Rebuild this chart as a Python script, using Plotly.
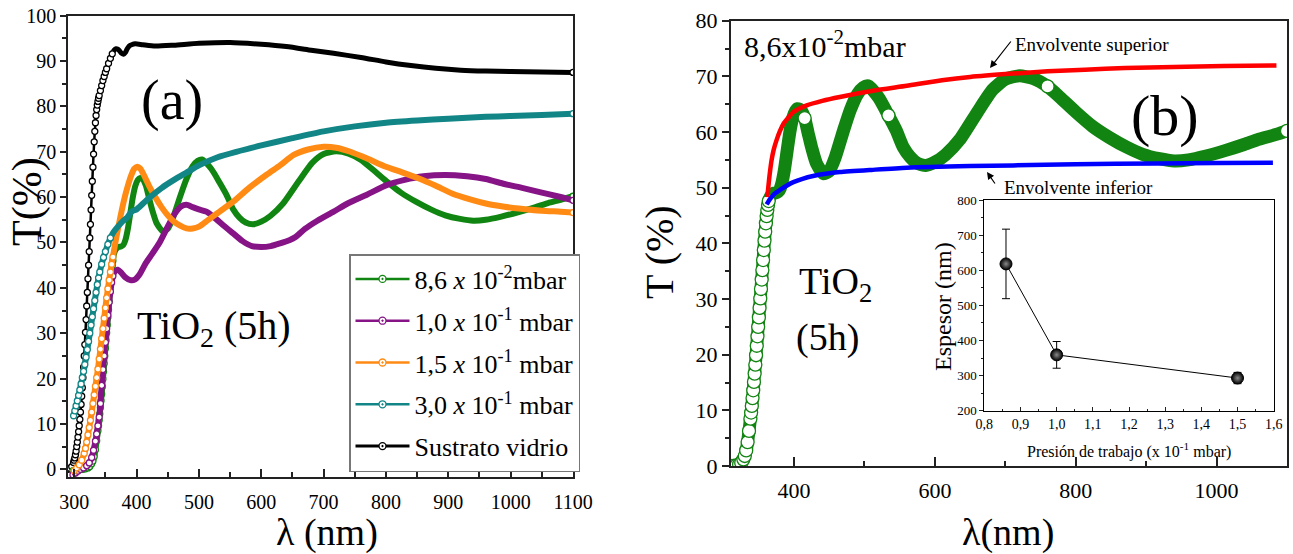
import plotly.graph_objects as go

# ---------------- data ----------------
# (a) 8,6 x 10^-2 mbar (also the curve of panel b)
wl_g = [298, 302, 306, 310, 314, 318, 322, 325, 328, 330,
        332, 334, 336, 338, 339, 340, 341, 342, 343, 344,
        345, 346, 347, 348, 349, 350, 351, 352, 353, 354,
        355, 356, 357, 358, 359, 360, 361, 362, 363, 364,
        366, 368, 371, 375, 379, 382, 386, 390, 394, 398,
        402, 405, 410, 415, 420, 425, 432, 442, 450, 458,
        470, 480, 490, 498, 505, 520, 534, 545, 555, 565,
        575, 587, 600, 615, 635, 660, 682, 700, 720, 740,
        760, 777, 800, 824, 848, 872, 895, 919, 940, 960,
        985, 1013, 1040, 1060, 1080, 1100]
T_g = [-0.3, -0.2, 0, 0, 0, 0.1, 0.3, 0.6, 1.2, 1.8,
       2.8, 4.3, 6.3, 8.5, 9.6, 10.8, 12.2, 13.6, 15.1, 16.6,
       18.2, 19.9, 21.6, 23.3, 25, 26.7, 28.4, 30.1, 31.8, 33.5,
       35.2, 37, 38.8, 40.5, 42.1, 43.6, 44.9, 46, 46.9, 47.6,
       48.3, 48.7, 49, 49.1, 49.5, 50.5, 53, 56.5, 60, 62.5,
       63.8, 64.2, 63.9, 62.5, 59.8, 57.2, 54.3, 52.5, 53, 55.3,
       60.2, 64, 66.8, 68, 68.3, 66.2, 63, 60.3, 57.3, 55.5,
       54.4, 54, 54.6, 55.9, 58.6, 63.5, 67.6, 69.5, 70.1, 69.6,
       68.2, 66.3, 63.6, 61, 59, 57.3, 56, 55.2, 54.8, 55,
       55.7, 56.7, 57.8, 58.7, 59.4, 60.2]

# 1,0 x 10^-1 mbar
wl_p = [298, 302, 306, 310, 315, 320, 324, 328, 331, 334,
        336, 338, 340, 342, 344, 346, 348, 350, 352, 354,
        356, 358, 360, 362, 364, 367, 370, 375, 382, 390,
        397, 405, 415, 425, 437, 450, 462, 472, 480, 490,
        500, 512, 525, 540, 555, 570, 585, 600, 615, 630,
        645, 655, 670, 690, 716, 740, 770, 802, 830, 860,
        895, 930, 960, 990, 1020, 1050, 1075, 1100]
T_p = [-1.2, -0.8, -0.4, 0, 0.3, 0.8, 1.4, 2.6, 4.2, 6.2,
       7.8, 9.6, 11.5, 14.5, 18.5, 22, 25, 28, 31, 34,
       36.8, 39.2, 41.2, 42.6, 43.4, 43.8, 44, 43.4, 42.3, 41.7,
       41.8, 43, 45.5, 47.5, 50, 53.5, 56.5, 58, 58.3, 57.8,
       57.3, 56.8, 55.5, 53.7, 52, 50.3, 49.2, 49, 49.2, 49.8,
       50.5, 51.2, 53, 54.8, 56.8, 58.7, 60.6, 62.7, 63.8, 64.6,
       64.9, 64.6, 64, 62.9, 62, 61, 60.2, 59.3]

# 1,5 x 10^-1 mbar
wl_o = [300, 304, 308, 312, 316, 318, 320, 322, 324, 326,
        328, 330, 332, 334, 336, 338, 340, 342, 344, 346,
        348, 350, 352, 354, 356, 358, 360, 362, 364, 368,
        372, 377, 382, 387, 392, 396, 401, 406, 412, 420,
        430, 440, 450, 460, 470, 480, 490, 500, 515, 530,
        555, 580, 609, 630, 652, 675, 700, 720, 743, 770,
        800, 825, 853, 880, 906, 935, 960, 990, 1013, 1050,
        1080, 1100]
T_o = [-0.3, 0.3, 1, 2, 3.5, 4.6, 6, 7.6, 9.2, 10.8,
       12.6, 14.5, 16.4, 18.3, 20.2, 22.1, 24.3, 26.5, 28.8, 31,
       33.3, 35.6, 37.8, 39.8, 41.7, 43.5, 45.2, 46.8, 48.4, 51.5,
       54.3, 57.6, 60.5, 63, 65, 66.2, 66.7, 66.3, 64.8, 62.5,
       60, 57.8, 56, 54.6, 53.7, 53.1, 53.1, 53.5, 55, 56.5,
       59, 62, 65, 67, 69.3, 70.5, 71.1, 70.9, 70, 68.5,
       66.7, 65.5, 64.1, 62.5, 60.8, 59.5, 58.6, 57.9, 57.5, 57,
       56.8, 56.6]

# 3,0 x 10^-1 mbar
wl_t = [299, 301, 303, 305, 307, 309, 311, 313, 315, 317,
        319, 321, 323, 325, 327, 329, 331, 333, 335, 337,
        339, 341, 344, 347, 350, 354, 358, 363, 370, 378,
        385, 392, 400, 405, 420, 440, 460, 480, 500, 530,
        560, 600, 650, 700, 750, 800, 850, 900, 960, 1000,
        1050, 1100]
T_t = [11.8, 12.9, 14, 15.1, 16.3, 17.5, 18.8, 20.2, 21.6, 23.1,
       24.7, 26.4, 28.2, 30, 31.8, 33.6, 35.4, 37.2, 39, 40.7,
       42.2, 43.5, 45.2, 46.7, 48, 49.6, 51, 52.3, 53.5, 54.7,
       55.5, 56.8, 57.3, 57.9, 59.8, 62, 63.8, 65.4, 67, 68.8,
       70, 71.4, 73, 74.5, 75.6, 76.4, 76.9, 77.3, 77.7, 77.9,
       78.1, 78.4]

# Sustrato vidrio
wl_b = [290, 293, 296, 299, 300, 301, 302, 303, 304, 305,
        306, 307, 308, 309, 310, 311, 312, 313, 314, 315,
        316, 317, 318, 319, 320, 321, 322, 323, 324, 325,
        326, 327, 328, 329, 330, 331, 332, 333, 334, 335,
        336, 337, 338, 339, 340, 342, 344, 346, 348, 350,
        352, 355, 358, 361, 364, 367, 370, 373, 376, 379,
        382, 385, 388, 392, 398, 410, 430, 460, 500, 550,
        600, 640, 680, 716, 760, 800, 840, 880, 920, 960,
        1000, 1050, 1100]
T_b = [0, 0.2, 0.6, 1.5, 2.0, 2.5, 3.2, 4.0, 5.0, 6.0,
       7.1, 8.3, 9.6, 11.0, 12.6, 14.3, 16.1, 18.0, 20.2, 22.5,
       25.0, 27.5, 30.2, 33.0, 36.0, 39.0, 42.0, 45.0, 48.0, 51.0,
       54.0, 57.2, 60.4, 63.5, 66.6, 69.5, 72.2, 74.5, 76.4, 78.0,
       79.3, 80.3, 81.1, 81.8, 82.4, 83.5, 84.6, 85.7, 86.6, 87.5,
       88.3, 89.5, 90.6, 91.6, 92.4, 92.7, 92.6, 92.2, 91.7, 91.5,
       91.9, 92.7, 93.3, 93.6, 93.8, 93.6, 93.3, 93.5, 93.9, 94.1,
       93.7, 93.2, 92.4, 91.7, 90.8, 89.8, 89.0, 88.4, 88.0, 87.8,
       87.7, 87.6, 87.5]

# (b) envelopes
wl_sup = [362, 365, 368, 371, 375, 380, 385, 392, 399, 418, 440, 465, 512,
          560, 610, 650, 711, 760, 813, 870, 939, 1010, 1085]
T_sup = [48.3, 52, 54.9, 56.8, 58.5, 60.2, 61.5, 62.6, 63.6, 64.8, 65.6, 66.3,
         67.4, 68.3, 69.3, 69.9, 70.5, 70.9, 71.2, 71.5, 71.7, 71.85, 71.95]
wl_inf = [361, 366, 372, 380, 390, 399, 412, 427, 445, 465, 510, 560, 650,
          711, 800, 914, 1000, 1080]
T_inf = [47, 48, 48.9, 49.6, 50.4, 51, 51.6, 52.1, 52.5, 52.8, 53.2, 53.6,
         53.9, 54.0, 54.2, 54.35, 54.45, 54.5]

# inset
presion = [0.86, 1.0, 1.5]
espesor = [618, 359, 293]
espesor_err = [99, 38, 16]
inset_xticks = [0.8, 0.9, 1.0, 1.1, 1.2, 1.3, 1.4, 1.5, 1.6]
inset_xlabels = ["0,8", "0,9", "1,0", "1,1", "1,2", "1,3", "1,4", "1,5", "1,6"]

series_a = [
    ("8,6 <i>x</i> 10<sup>-2</sup>mbar", wl_g, T_g, "#118511"),
    ("1,0 <i>x</i> 10<sup>-1</sup> mbar", wl_p, T_p, "#861486"),
    ("1,5 <i>x</i> 10<sup>-1</sup> mbar", wl_o, T_o, "#ff8a14"),
    ("3,0 <i>x</i> 10<sup>-1</sup> mbar", wl_t, T_t, "#128686"),
    ("Sustrato vidrio", wl_b, T_b, "#000000"),
]

# ---------------- layout geometry ----------------
W, H = 1293, 554
FONT = "Liberation Serif"


def fx(px):
    return px / W


def fy(py):
    return 1 - py / H


fig = go.Figure()

# ---- panel (a) curves ----
draw_order = [4, 0, 1, 2, 3]
for i in draw_order:
    name, wl, T, col = series_a[i]
    if i == 4:
        fig.add_trace(go.Scatter(x=wl, y=T, mode="lines", xaxis="x", yaxis="y",
                                 line=dict(color=col, width=2.5, shape="spline", smoothing=0.6),
                                 showlegend=False, hoverinfo="skip"))
        sel = [k for k, w in enumerate(wl) if w >= 358]
        fig.add_trace(go.Scatter(x=[wl[k] for k in sel], y=[T[k] for k in sel], mode="lines",
                                 xaxis="x", yaxis="y",
                                 line=dict(color=col, width=5, shape="spline", smoothing=0.6),
                                 showlegend=False, hoverinfo="skip"))
    else:
        fig.add_trace(go.Scatter(x=wl, y=T, mode="lines", xaxis="x", yaxis="y",
                                 line=dict(color=col, width=6, shape="spline", smoothing=0.6),
                                 showlegend=False, hoverinfo="skip"))
    sel = [k for k, w in enumerate(wl) if w <= 362] + [len(wl) - 1]
    fig.add_trace(go.Scatter(x=[wl[k] for k in sel], y=[T[k] for k in sel], mode="markers",
                             xaxis="x", yaxis="y",
                             marker=dict(symbol="circle", size=6, color="white",
                                         line=dict(color=col, width=1.3)),
                             showlegend=False, hoverinfo="skip"))

# legend entries
for name, wl, T, col in series_a:
    fig.add_trace(go.Scatter(x=[None], y=[None], mode="lines+markers", name=name,
                             xaxis="x", yaxis="y", legendgroup=name,
                             line=dict(color=col, width=3 if col == "#000000" else 2.5),
                             marker=dict(symbol="circle-dot", size=7, color="white",
                                         line=dict(color=col, width=1.3))))

# ---- panel (b) ----
GREEN_B = "#128412"
fig.add_trace(go.Scatter(x=wl_g, y=T_g, mode="lines", xaxis="x2", yaxis="y2",
                         line=dict(color=GREEN_B, width=13, shape="spline", smoothing=0.6),
                         showlegend=False, hoverinfo="skip"))
mark_pts = (415, 534, 760, 1100)
sel = [k for k, w in enumerate(wl_g) if w <= 364 or w in mark_pts]
fig.add_trace(go.Scatter(x=[wl_g[k] for k in sel], y=[T_g[k] for k in sel], mode="markers",
                         xaxis="x2", yaxis="y2",
                         marker=dict(symbol="circle", size=13, color="white",
                                     line=dict(color=GREEN_B, width=1.3)),
                         showlegend=False, hoverinfo="skip"))
fig.add_trace(go.Scatter(x=wl_sup, y=T_sup, mode="lines", xaxis="x2", yaxis="y2",
                         line=dict(color="#ff0000", width=4.5, shape="spline", smoothing=0.6),
                         showlegend=False, hoverinfo="skip"))
fig.add_trace(go.Scatter(x=wl_inf, y=T_inf, mode="lines", xaxis="x2", yaxis="y2",
                         line=dict(color="#0000ff", width=4.5, shape="spline", smoothing=0.6),
                         showlegend=False, hoverinfo="skip"))

# ---- inset ----
fig.add_trace(go.Scatter(x=presion, y=espesor, mode="lines+markers", xaxis="x3", yaxis="y3",
                         line=dict(color="black", width=1),
                         marker=dict(size=12, color="black",
                                     gradient=dict(type="radial", color="#8a8a8a"),
                                     line=dict(color="black", width=1)),
                         error_y=dict(type="data", array=espesor_err, color="black",
                                      thickness=1, width=4),
                         showlegend=False, hoverinfo="skip"))

axis_common = dict(showline=True, linecolor="#222222", linewidth=1.5, mirror=True,
                   showgrid=False, zeroline=False, ticks="outside", automargin=False,
                   tickcolor="#222222", tickwidth=1.5)

fig.update_layout(
    template="none",
    width=W, height=H,
    margin=dict(l=0, r=0, t=0, b=0, autoexpand=False),
    paper_bgcolor="white", plot_bgcolor="white",
    font=dict(family=FONT, color="black"),
    xaxis=dict(axis_common, domain=[fx(68), fx(573)], range=[290, 1100],
               tick0=300, dtick=100, ticks="inside", ticklen=8,
               minor=dict(dtick=50, ticks="inside", ticklen=5, tickcolor="#222222", tickwidth=1.5),
               tickfont=dict(size=20, family=FONT), ticklabelstandoff=6, anchor="y"),
    yaxis=dict(axis_common, domain=[fy(477), fy(15.7)], range=[-1.7, 100],
               tick0=0, dtick=10, ticklen=6,
               minor=dict(dtick=5, ticks="outside", ticklen=4, tickcolor="#222222", tickwidth=1.5),
               tickfont=dict(size=20, family=FONT), anchor="x"),
    xaxis2=dict(axis_common, domain=[fx(730.7), fx(1287)], range=[310, 1100],
                tick0=400, dtick=200, ticks="inside", ticklen=9,
                minor=dict(dtick=100, ticks="inside", ticklen=5, tickcolor="#222222", tickwidth=1.5),
                tickfont=dict(size=22, family=FONT), ticklabelstandoff=4, anchor="y2"),
    yaxis2=dict(axis_common, domain=[fy(466), fy(20.7)], range=[0, 80],
                tick0=0, dtick=10, ticklen=7,
                minor=dict(dtick=5, ticks="outside", ticklen=4, tickcolor="#222222", tickwidth=1.5),
                tickfont=dict(size=22, family=FONT), anchor="x2"),
    xaxis3=dict(axis_common, domain=[fx(984.3), fx(1273.7)], range=[0.8, 1.6],
                tickvals=inset_xticks, ticktext=inset_xlabels, ticks="inside", ticklen=4,
                linewidth=1, tickwidth=1, linecolor="black",
                minor=dict(dtick=0.05, tick0=0.8, ticks="inside", ticklen=2, tickwidth=1),
                tickfont=dict(size=14, family=FONT), anchor="y3"),
    yaxis3=dict(axis_common, domain=[fy(410.7), fy(200)], range=[200, 800],
                tick0=200, dtick=100, ticklen=4, linewidth=1, tickwidth=1, linecolor="black",
                minor=dict(dtick=50, ticks="outside", ticklen=2, tickwidth=1),
                tickfont=dict(size=13, family=FONT), anchor="x3"),
    legend=dict(x=fx(349), y=fy(254), xanchor="left", yanchor="top",
                bgcolor="white", bordercolor="#777777", borderwidth=1.5,
                font=dict(size=26, family=FONT, color="black"),
                itemwidth=54, tracegroupgap=5),
)


def ann(text, xp, yp, size, xanchor="center", angle=0):
    fig.add_annotation(text=text, x=fx(xp), y=fy(yp), xref="paper", yref="paper",
                       showarrow=False, xanchor=xanchor, yanchor="middle",
                       textangle=angle, font=dict(size=size, family=FONT, color="black"))


ann("T(%)", 27, 202, 42, angle=-90)
ann("λ (nm)", 327, 532, 38)
ann("(a)", 172, 100, 56)
ann("TiO<sub>2</sub> (5h)", 214, 328, 40)

ann("T (%)", 659, 252, 40, angle=-90)
ann("λ(nm)", 1008, 532, 38)
ann("8,6x10<sup>-2</sup>mbar", 742, 44, 30, xanchor="left")
ann("(b)", 1165, 116, 58)
ann("TiO<sub>2</sub>", 836, 284, 38)
ann("(5h)", 827, 337, 38)
ann("Envolvente superior", 1013, 44, 19, xanchor="left")
ann("Envolvente inferior", 1002, 187, 19, xanchor="left")
ann("Espesor (nm)", 943, 306, 24, angle=-90)
ann("Presión de trabajo (x 10<sup>-1</sup> mbar)", 1129, 450, 16)

# arrows
fig.add_annotation(x=fx(990), y=fy(68), xref="paper", yref="paper", text="",
                   showarrow=True, ax=22, ay=-28, arrowhead=2, arrowsize=1.2,
                   arrowwidth=1.2, arrowcolor="black")
fig.add_annotation(x=fx(987), y=fy(172), xref="paper", yref="paper", text="",
                   showarrow=True, ax=9, ay=13, arrowhead=2, arrowsize=1.2,
                   arrowwidth=1.2, arrowcolor="black")

fig.write_html("out.html")
